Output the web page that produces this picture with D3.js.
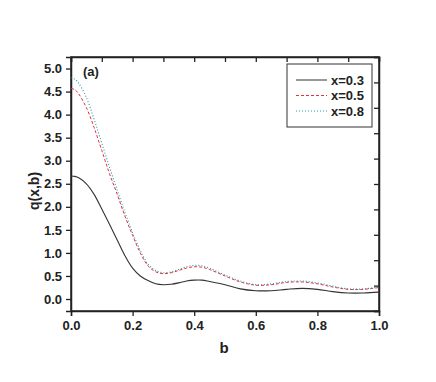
<!DOCTYPE html>
<html>
<head>
<meta charset="utf-8">
<script src="https://cdn.jsdelivr.net/npm/d3@7"></script>
<style>
  body { margin: 0; background: #fff; }
  svg text { font-family: Arial, "Liberation Sans", sans-serif; font-weight: bold; fill: #222; }
</style>
</head>
<body>
<svg width="436" height="382"></svg>
<script>
// b values shared by all three curves
let bVals = [0, 0.0125, 0.025, 0.05, 0.075, 0.1, 0.125, 0.15, 0.175, 0.2, 0.225, 0.25, 0.275, 0.3,
  0.325, 0.35, 0.375, 0.4, 0.425, 0.45, 0.5, 0.55, 0.6, 0.65, 0.7, 0.75, 0.8, 0.85, 0.9, 0.95, 1.0];

let qX03 = [2.67, 2.66, 2.63, 2.50, 2.27, 1.95, 1.62, 1.28, 0.94, 0.67, 0.50, 0.40, 0.33, 0.31,
  0.32, 0.35, 0.39, 0.41, 0.41, 0.38, 0.31, 0.22, 0.18, 0.18, 0.21, 0.23, 0.21, 0.16, 0.13, 0.13, 0.15];
let qX05 = [4.57, 4.54, 4.45, 4.15, 3.72, 3.22, 2.72, 2.27, 1.80, 1.38, 1.00, 0.72, 0.59, 0.55,
  0.57, 0.62, 0.67, 0.70, 0.69, 0.64, 0.50, 0.37, 0.30, 0.31, 0.36, 0.37, 0.33, 0.26, 0.21, 0.21, 0.25];
let qX08 = [4.80, 4.77, 4.68, 4.37, 3.90, 3.38, 2.86, 2.36, 1.88, 1.44, 1.05, 0.76, 0.62, 0.57,
  0.59, 0.64, 0.70, 0.73, 0.72, 0.67, 0.52, 0.39, 0.31, 0.33, 0.38, 0.39, 0.35, 0.28, 0.22, 0.22, 0.26];

let seriesNames = ["x=0.3", "x=0.5", "x=0.8"];
let xTicks = [0, 0.2, 0.4, 0.6, 0.8, 1.0];
let yTicks = [0, 0.5, 1, 1.5, 2, 2.5, 3, 3.5, 4, 4.5, 5];

let svg = d3.select("svg");
let margin = { top: 57, right: 57, bottom: 71, left: 71 };
let plotWidth = 436 - margin.left - margin.right;
let plotHeight = 382 - margin.top - margin.bottom;

let xScale = d3.scaleLinear().domain([0, 1]).range([0, plotWidth]);
let yScale = d3.scaleLinear().domain([-0.26, 5.25]).range([plotHeight, 0]);

let plot = svg.append("g").attr("id", "plot")
  .attr("transform", "translate(" + margin.left + "," + margin.top + ")");

// frame
plot.append("rect")
  .attr("width", plotWidth).attr("height", plotHeight)
  .attr("fill", "none").attr("stroke", "#222").attr("stroke-width", 1.5);

// bottom axis, minor then major
let xMinor = d3.range(0, 1.0001, 0.1);
let xGroup = plot.append("g").attr("transform", "translate(0," + plotHeight + ")");
xGroup.call(d3.axisBottom(xScale).tickValues(xMinor).tickSize(3).tickFormat(""));
xGroup.call(d3.axisBottom(xScale).tickValues(xTicks).tickSize(5).tickPadding(5).tickFormat(d3.format(".1f")));

let yMinor = d3.range(0, 5.0001, 0.25);
let yGroup = plot.append("g");
yGroup.call(d3.axisLeft(yScale).tickValues(yMinor).tickSize(3).tickFormat(""));
yGroup.call(d3.axisLeft(yScale).tickValues(yTicks).tickSize(5).tickPadding(4).tickFormat(d3.format(".1f")));

// top and right inward ticks
let topScale = d3.scaleLinear().domain([0, 1]).range([0, plotWidth]);
plot.append("g")
  .call(d3.axisTop(topScale).tickValues(xMinor).tickSize(-5).tickFormat(""));
let rightScale = d3.scaleLinear().domain([0, 10]).range([plotHeight, 0]);
plot.append("g").attr("transform", "translate(" + plotWidth + ",0)")
  .call(d3.axisRight(rightScale).ticks(10).tickSize(-5).tickFormat(""));

plot.selectAll(".domain").attr("stroke", "#222").attr("stroke-width", 1.5);
plot.selectAll(".tick line").attr("stroke", "#222").attr("stroke-width", 1.3);
plot.selectAll(".tick text").attr("font-size", 13).attr("fill", "#222")
  .style("font-family", "Arial, 'Liberation Sans', sans-serif").style("font-weight", "bold");

// curves
let series = [
  { name: seriesNames[0], vals: qX03, color: "#333333", dash: null, width: 1.1 },
  { name: seriesNames[1], vals: qX05, color: "#e8303a", dash: "3,2", width: 1.0 },
  { name: seriesNames[2], vals: qX08, color: "#1f98a8", dash: "1,2", width: 1.1 }
];

let line = d3.line()
  .x(function(d) { return xScale(d[0]); })
  .y(function(d) { return yScale(d[1]); })
  .curve(d3.curveCatmullRom);

series.forEach(function(s) {
  plot.append("path")
    .datum(bVals.map(function(b, i) { return [b, s.vals[i]]; }))
    .attr("fill", "none")
    .attr("stroke", s.color)
    .attr("stroke-width", s.width)
    .attr("stroke-dasharray", s.dash)
    .attr("d", line);
});

// legend
let legend = plot.append("g").attr("transform", "translate(" + (287 - margin.left) + "," + (64 - margin.top) + ")");
legend.append("rect").attr("width", 85).attr("height", 63)
  .attr("fill", "#fff").attr("stroke", "#333").attr("stroke-width", 1);
series.forEach(function(s, i) {
  let y = 16 + i * 15.5;
  legend.append("line")
    .attr("x1", 9).attr("x2", 40).attr("y1", y).attr("y2", y)
    .attr("stroke", i == 0 ? "#777" : s.color).attr("stroke-width", i == 0 ? 1.5 : s.width)
    .attr("stroke-dasharray", s.dash);
  legend.append("text")
    .attr("x", 44).attr("y", y + 4.5)
    .attr("font-size", 13)
    .text(s.name);
});

plot.append("text").attr("x", 12).attr("y", 19).attr("font-size", 13).text("(a)");

// axis titles
svg.append("text")
  .attr("transform", "translate(39,191) rotate(-90)")
  .style("text-anchor", "middle")
  .attr("font-size", 14)
  .text("q(x,b)");

svg.append("text")
  .attr("x", 224)
  .attr("y", 353)
  .style("text-anchor", "middle")
  .attr("font-size", 15)
  .text("b");
</script>
</body>
</html>
